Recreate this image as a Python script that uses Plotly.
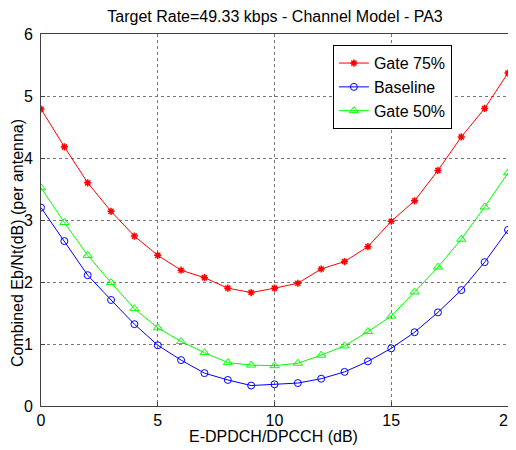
import plotly.graph_objects as go

x_db = list(range(0, 21))
gate75 = [4.79, 4.18, 3.60, 3.14, 2.74, 2.43, 2.19, 2.07, 1.90, 1.83, 1.90,
          1.98, 2.21, 2.33, 2.57, 2.98, 3.31, 3.80, 4.34, 4.80, 5.37]
baseline = [3.20, 2.66, 2.11, 1.71, 1.32, 0.98, 0.74, 0.53, 0.42, 0.33, 0.35,
            0.37, 0.44, 0.55, 0.72, 0.93, 1.19, 1.51, 1.87, 2.32, 2.84]
gate50 = [3.52, 2.96, 2.43, 1.99, 1.57, 1.26, 1.04, 0.86, 0.70, 0.66, 0.65,
          0.69, 0.82, 0.97, 1.20, 1.45, 1.84, 2.24, 2.69, 3.21, 3.76]

font = "Liberation Sans, Arial, sans-serif"
FS = 16

fig = go.Figure()
fig.add_trace(go.Scatter(x=x_db, y=gate75, name="Gate 75%", mode="lines+markers",
                         line=dict(color="#FF0000", width=1),
                         marker=dict(symbol="asterisk-open", size=6, color="#FF0000",
                                     line=dict(color="#FF0000", width=1.5))))
fig.add_trace(go.Scatter(x=x_db, y=baseline, name="Baseline", mode="lines+markers",
                         line=dict(color="#0000FF", width=1),
                         marker=dict(symbol="circle-open", size=7, color="#0000FF",
                                     line=dict(color="#0000FF", width=1))))
fig.add_trace(go.Scatter(x=x_db, y=gate50, name="Gate 50%", mode="lines+markers",
                         line=dict(color="#00FF00", width=1),
                         marker=dict(symbol="triangle-up-open", size=8, color="#00FF00",
                                     line=dict(color="#00FF00", width=1))))

axis_common = dict(showgrid=True, gridcolor="#777777", griddash="dot", gridwidth=1,
                   showline=True, linecolor="#404040", linewidth=1, mirror=True,
                   ticks="inside", ticklen=4, tickcolor="#404040", zeroline=False,
                   automargin=False, ticklabeloverflow="allow",
                   tickfont=dict(family=font, size=FS, color="black"))

# the page has an 8px body margin, so the figure is sized/offset to compensate
fig.update_layout(
    width=508, height=442,
    margin=dict(l=33, r=8, t=26, b=44),
    paper_bgcolor="white", plot_bgcolor="white",
    title=dict(text="Target Rate=49.33 kbps - Channel Model - PA3",
               x=0.5256, xanchor="center", y=0.98, yanchor="middle",
               font=dict(family=font, size=FS, color="black")),
    xaxis=dict(range=[0, 20], dtick=5, ticklabelstandoff=0, **axis_common),
    yaxis=dict(range=[0, 6], dtick=1, ticklabelstandoff=4, **axis_common),
    legend=dict(x=0.625, y=0.97, xanchor="left", yanchor="top",
                bgcolor="white", bordercolor="black", borderwidth=1,
                font=dict(family=font, size=FS, color="black"),
                tracegroupgap=0, itemwidth=30),
    showlegend=True,
    annotations=[
        dict(text="E-DPDCH/DPCCH (dB)", xref="paper", yref="paper",
             x=0.4968, y=-0.083, xanchor="center", yanchor="middle",
             showarrow=False, font=dict(family=font, size=FS, color="black")),
        dict(text="Combined Eb/Nt(dB) (per antenna)", xref="paper", yref="paper",
             x=-0.0514, y=0.438, xanchor="center", yanchor="middle", textangle=-90,
             showarrow=False, font=dict(family=font, size=FS, color="black")),
    ],
)

fig.write_html("out.html")
